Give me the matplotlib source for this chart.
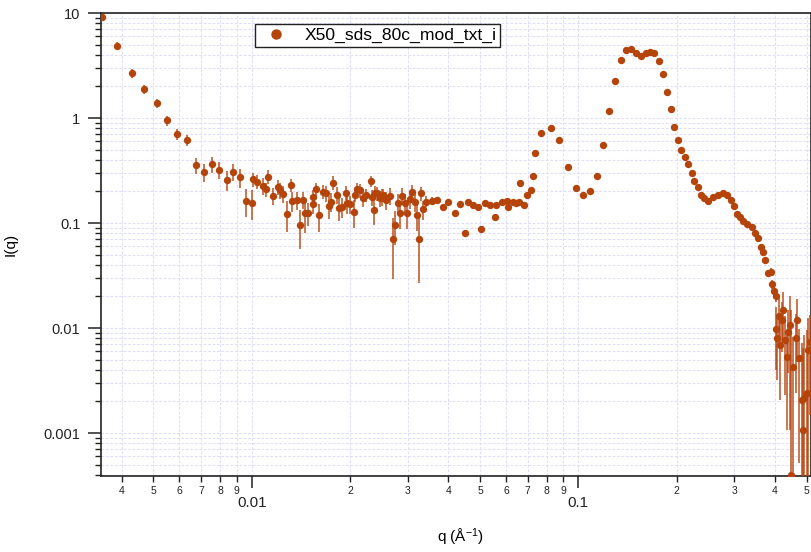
import numpy as np
import matplotlib
matplotlib.use("Agg")
import matplotlib.pyplot as plt
from matplotlib.ticker import LogLocator, FuncFormatter, NullFormatter, FixedLocator
from matplotlib.lines import Line2D

plt.rcParams['font.family'] = ['Liberation Sans', 'DejaVu Sans']
plt.rcParams['mathtext.default'] = 'regular'

series_name = "X50_sds_80c_mod_txt_i"

q = [0.00347, 0.00388, 0.00429, 0.00469, 0.00512, 0.00552, 0.00592, 0.00634, 0.00674, 0.00715,
     0.00756, 0.00796, 0.00839, 0.00878, 0.00921, 0.00961, 0.01000, 0.01011, 0.01040, 0.01081,
     0.01106, 0.01124, 0.01160, 0.01206, 0.01221, 0.01244, 0.01285, 0.01318, 0.01332, 0.01373,
     0.01405, 0.01432, 0.01453, 0.01490, 0.01537, 0.01544, 0.01573, 0.01610, 0.01649, 0.01688,
     0.01728, 0.01745, 0.01777, 0.01820, 0.01854, 0.01886, 0.01943, 0.01961, 0.02000, 0.02057,
     0.02072, 0.02105, 0.02140, 0.02196, 0.02240, 0.02313, 0.02330, 0.02368, 0.02390, 0.02425,
     0.02470, 0.02500, 0.02527, 0.02570, 0.02650, 0.02702, 0.02746, 0.02810, 0.02844, 0.02877,
     0.02946, 0.02979, 0.03052, 0.03088, 0.03161, 0.03197, 0.03251, 0.03292, 0.03352, 0.03408,
     0.03556, 0.03699, 0.03860, 0.04000, 0.04193, 0.04341, 0.04498, 0.04606, 0.04770, 0.04942,
     0.05033, 0.05188, 0.05363, 0.05556, 0.05595, 0.05825, 0.06032, 0.06100, 0.06313, 0.06462,
     0.06558, 0.06625, 0.06806, 0.06980, 0.07155, 0.07264, 0.07374, 0.07683, 0.08226, 0.08740,
     0.09274, 0.09810, 0.1031, 0.1083, 0.1138, 0.1189, 0.1238, 0.1294, 0.1348, 0.1396,
     0.1449, 0.1501, 0.1555, 0.1607, 0.1657, 0.1707, 0.1761, 0.1811, 0.1864, 0.1917,
     0.1965, 0.2018, 0.2065, 0.2115, 0.2169, 0.2222, 0.2263, 0.2323, 0.2367, 0.2423,
     0.2498, 0.2588, 0.2681, 0.2777, 0.2856, 0.2932, 0.2995, 0.3052, 0.3123, 0.3197,
     0.3289, 0.3393, 0.3473, 0.3554, 0.3621, 0.3681, 0.3734, 0.3814, 0.3879, 0.3906,
     0.3970, 0.4018, 0.4026, 0.4063, 0.4121, 0.4141, 0.4191, 0.4239, 0.4290, 0.4342,
     0.4391, 0.4443, 0.4466, 0.4549, 0.4637, 0.4677, 0.4745, 0.4825, 0.4880, 0.4915,
     0.5000, 0.5057, 0.5115]

intensity = [9.16, 4.85, 2.67, 1.88, 1.38, 0.951, 0.704, 0.621, 0.354, 0.306,
             0.362, 0.320, 0.257, 0.306, 0.272, 0.163, 0.156, 0.261, 0.247, 0.225,
             0.209, 0.276, 0.182, 0.222, 0.206, 0.189, 0.122, 0.230, 0.163, 0.166,
             0.095, 0.166, 0.124, 0.125, 0.178, 0.152, 0.209, 0.118, 0.199, 0.192,
             0.145, 0.160, 0.242, 0.185, 0.138, 0.143, 0.195, 0.154, 0.152, 0.128,
             0.185, 0.209, 0.205, 0.172, 0.185, 0.253, 0.176, 0.133, 0.195, 0.192,
             0.172, 0.178, 0.185, 0.166, 0.181, 0.070, 0.0957, 0.154, 0.124, 0.181,
             0.154, 0.124, 0.169, 0.199, 0.160, 0.119, 0.070, 0.192, 0.135, 0.160,
             0.163, 0.166, 0.141, 0.160, 0.125, 0.152, 0.0809, 0.160, 0.148, 0.143,
             0.0877, 0.156, 0.148, 0.115, 0.148, 0.160, 0.163, 0.143, 0.160, 0.154,
             0.160, 0.239, 0.148, 0.185, 0.206, 0.282, 0.461, 0.715, 0.808, 0.613,
             0.339, 0.214, 0.185, 0.202, 0.279, 0.550, 1.17, 2.25, 3.54, 4.45,
             4.54, 4.19, 3.92, 4.13, 4.28, 4.13, 3.49, 2.61, 1.76, 1.21,
             0.826, 0.613, 0.496, 0.423, 0.365, 0.301, 0.253, 0.219, 0.185, 0.172,
             0.163, 0.176, 0.185, 0.195, 0.185, 0.166, 0.145, 0.122, 0.113, 0.105,
             0.0978, 0.0910, 0.0798, 0.0714, 0.0595, 0.0533, 0.0444, 0.0332, 0.0344, 0.0262,
             0.0226, 0.0202, 0.0099, 0.00798, 0.0130, 0.00689, 0.0119, 0.0148, 0.00769, 0.00533,
             0.00923, 0.0107, 0.00040, 0.00428, 0.00798, 0.0119, 0.00514, 0.00206, 0.00107, 0.00214,
             0.00239, 0.00617, 0.00741]

# relative uncertainty (error / intensity)
rel_err = [0.04, 0.08, 0.09, 0.09, 0.10, 0.11, 0.12, 0.12, 0.18, 0.20,
           0.18, 0.18, 0.22, 0.18, 0.20, 0.30, 0.32, 0.15, 0.15, 0.18,
           0.16, 0.15, 0.18, 0.16, 0.18, 0.18, 0.32, 0.15, 0.22, 0.20,
           0.40, 0.18, 0.35, 0.25, 0.15, 0.20, 0.15, 0.30, 0.15, 0.18,
           0.25, 0.20, 0.15, 0.18, 0.25, 0.22, 0.15, 0.20, 0.20, 0.30,
           0.15, 0.15, 0.15, 0.18, 0.15, 0.12, 0.18, 0.28, 0.15, 0.15,
           0.18, 0.18, 0.15, 0.20, 0.18, 0.58, 0.35, 0.22, 0.30, 0.18,
           0.22, 0.30, 0.20, 0.15, 0.20, 0.30, 0.62, 0.15, 0.20, 0.12,
           0.08, 0.06, 0.06, 0.05, 0.05, 0.05, 0.05, 0.04, 0.04, 0.04,
           0.04, 0.04, 0.04, 0.04, 0.04, 0.04, 0.04, 0.04, 0.04, 0.04,
           0.04, 0.03, 0.03, 0.03, 0.03, 0.03, 0.02, 0.02, 0.02, 0.02,
           0.02, 0.02, 0.02, 0.02, 0.02, 0.02, 0.02, 0.02, 0.02, 0.02,
           0.02, 0.02, 0.02, 0.02, 0.02, 0.02, 0.02, 0.02, 0.02, 0.02,
           0.02, 0.02, 0.02, 0.02, 0.02, 0.02, 0.02, 0.02, 0.02, 0.02,
           0.02, 0.02, 0.02, 0.02, 0.02, 0.03, 0.03, 0.03, 0.03, 0.03,
           0.03, 0.04, 0.04, 0.05, 0.05, 0.06, 0.07, 0.08, 0.08, 0.10,
           0.10, 0.12, 0.60, 0.60, 0.50, 0.70, 0.50, 0.50, 0.70, 0.80,
           0.60, 0.90, 36.0, 0.90, 0.70, 0.60, 0.90, 2.5, 5.0, 3.0,
           3.0, 1.0, 0.8]

color = '#b5440b'

q = np.array(q)
intensity = np.array(intensity)
err = intensity * np.array(rel_err)

fig = plt.figure(figsize=(8.12, 5.52), dpi=100)
ax = fig.add_axes([101/812, 1 - 476/552, 710/812, 463/552])
ax.set_xscale('log', nonpositive='clip')
ax.set_yscale('log', nonpositive='clip')

ax.errorbar(q, intensity, yerr=err, fmt='none', ecolor=color, elinewidth=1.4,
            alpha=0.72, capsize=0, zorder=3)
ax.plot(q, intensity, 'o', color=color, ms=5.3, mec='none', zorder=4)

ax.set_xlim(0.003457, 0.5152)
ax.set_ylim(0.00039, 10)

# ticks
ax.xaxis.set_major_locator(FixedLocator([0.01, 0.1]))
ax.xaxis.set_major_formatter(FuncFormatter(lambda v, p: f"{v:g}"))
ax.xaxis.set_minor_locator(LogLocator(base=10, subs=np.arange(2, 10), numticks=20))
def minor_fmt(v, p):
    e = np.floor(np.log10(v) + 1e-9)
    d = int(round(v / 10**e))
    return str(d)
ax.xaxis.set_minor_formatter(FuncFormatter(minor_fmt))

ax.yaxis.set_major_locator(FixedLocator([0.001, 0.01, 0.1, 1, 10]))
ax.yaxis.set_major_formatter(FuncFormatter(lambda v, p: f"{v:g}"))
ax.yaxis.set_minor_locator(LogLocator(base=10, subs=np.arange(2, 10), numticks=20))
ax.yaxis.set_minor_formatter(NullFormatter())

ax.tick_params(axis='x', which='major', direction='out', length=8.6, width=1.1,
               pad=6, labelsize=11, colors='#222222')
ax.tick_params(axis='x', which='minor', direction='out', length=4.3, width=1.0,
               pad=3, labelsize=7.5, colors='#222222')
ax.tick_params(axis='y', which='major', direction='out', length=9.4, width=1.1,
               pad=5.5, labelsize=10.5, colors='#222222')
ax.tick_params(axis='y', which='minor', direction='out', length=4.3, width=1.0,
               colors='#222222')

for s in ax.spines.values():
    s.set_linewidth(1.2)
    s.set_color('#222222')

ax.grid(which='both', color='#dfdffb', linestyle=(0, (2.5, 1.5)), linewidth=0.8)
ax.set_axisbelow(True)

ax.set_ylabel('I(q)', fontsize=11)
ax.yaxis.set_label_coords(-0.118, 0.5)
ax.set_xlabel('q (Å$^{-1}$)', fontsize=11)
ax.xaxis.set_label_coords(0.506, -0.110)

handle = Line2D([], [], marker='o', ls='none', color=color, ms=7.5, mec='none')
leg = ax.legend([handle], [series_name], loc='upper left',
                bbox_to_anchor=(0.217, 0.976), borderaxespad=0, fancybox=False,
                framealpha=1, edgecolor='#222222', fontsize=12.6,
                handletextpad=0.6, borderpad=0.22, handlelength=2.0)
leg.get_frame().set_linewidth(1.0)

fig.savefig('out.png', dpi=100)
